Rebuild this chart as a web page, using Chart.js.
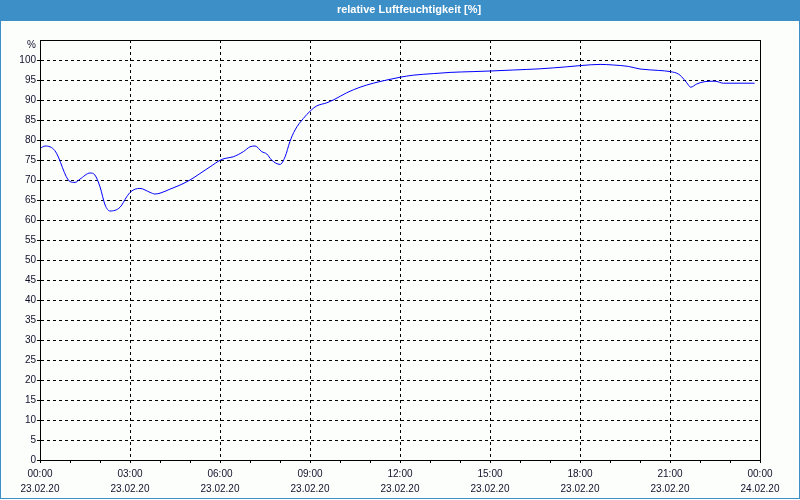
<!DOCTYPE html>
<html>
<head>
<meta charset="utf-8">
<script src="https://cdn.jsdelivr.net/npm/chart.js@4/dist/chart.umd.min.js"></script>
<style>
  html, body { margin: 0; padding: 0; background: #fcfefc; }
  canvas { display: block; }
</style>
</head>
<body>
<canvas id="c" width="800" height="500"></canvas>
<script>
// ---- data (hours since 23.02.20 00:00, relative humidity %) ----
const hours = [0, 0.17, 0.5, 1.0, 1.17, 1.33, 1.67, 1.83, 2.0, 2.17, 2.33, 2.67, 2.89, 3.03, 3.33, 3.67, 3.83, 4.0, 4.33, 4.67, 5.0, 5.33, 5.67, 6.02, 6.17, 6.44, 6.78, 7.0, 7.17, 7.39, 7.56, 7.72, 8.0, 8.17, 8.33, 8.5, 8.78, 9.01, 9.22, 9.56, 9.83, 10.22, 10.67, 11.11, 11.56, 12.01, 12.44, 13.11, 13.67, 14.44, 15.01, 15.78, 16.67, 17.56, 18.01, 18.67, 19.11, 19.61, 20.0, 20.61, 21.01, 21.28, 21.39, 21.56, 21.69, 21.89, 22.17, 22.5, 22.78, 23.82];
const humidity = [77.9, 78.5, 77.3, 69.6, 69.4, 70.2, 71.75, 71.25, 68.3, 63.75, 62.25, 63.2, 65.8, 67.1, 67.9, 66.9, 66.5, 66.7, 67.7, 68.75, 70, 71.6, 73.3, 75, 75.4, 75.8, 77.1, 78.3, 78.5, 77.1, 76.5, 75, 73.9, 75.8, 79.6, 82.5, 85.4, 87.25, 88.5, 89.3, 90.2, 91.8, 93.2, 94.2, 95, 95.7, 96.2, 96.6, 96.9, 97.1, 97.25, 97.5, 97.8, 98.3, 98.6, 98.9, 98.75, 98.4, 97.75, 97.4, 97.1, 96.5, 95.8, 94.3, 93.2, 94, 94.6, 94.7, 94.2, 94.2];
const xTickTimes = ['00:00', '03:00', '06:00', '09:00', '12:00', '15:00', '18:00', '21:00', '00:00'];
const xTickDates = ['23.02.20', '23.02.20', '23.02.20', '23.02.20', '23.02.20', '23.02.20', '23.02.20', '23.02.20', '24.02.20'];
const chartTitle = 'relative Luftfeuchtigkeit [%]';
const yUnit = '%';

const FONT = '"Liberation Sans", Arial, sans-serif';
const BAR = '#3d8fc7';
const TXT = '#10102a';

const frame = {
  id: 'frame',
  beforeDraw(chart) {
    const ctx = chart.ctx;
    ctx.save();
    ctx.fillStyle = '#fcfefc';
    ctx.fillRect(0, 0, 800, 500);
    ctx.fillStyle = BAR;
    ctx.fillRect(0, 0, 800, 21);
    ctx.strokeStyle = BAR;
    ctx.lineWidth = 1;
    ctx.strokeRect(0.5, 0.5, 799, 498);
    ctx.fillStyle = '#ffffff';
    ctx.font = 'bold 11px ' + FONT;
    ctx.textAlign = 'center';
    ctx.textBaseline = 'middle';
    ctx.fillText(chartTitle, 409, 10);
    ctx.restore();
  },
  afterDraw(chart) {
    const ctx = chart.ctx;
    const a = chart.chartArea;
    ctx.save();
    ctx.setLineDash([]);
    ctx.strokeStyle = '#000';
    ctx.lineWidth = 1;
    ctx.strokeRect(Math.round(a.left) + 0.5, Math.round(a.top) + 0.5, Math.round(a.right - a.left), Math.round(a.bottom - a.top));
    ctx.fillStyle = TXT;
    ctx.font = '10px ' + FONT;
    ctx.textAlign = 'right';
    ctx.textBaseline = 'middle';
    ctx.fillText(yUnit, a.left - 4, a.top + 5);
    ctx.restore();
  }
};

new Chart(document.getElementById('c'), {
  type: 'line',
  data: {
    datasets: [{
      data: hours.map((h, i) => ({ x: h, y: humidity[i] })),
      borderColor: '#0000ff',
      borderWidth: 1,
      pointRadius: 0,
      fill: false,
      cubicInterpolationMode: 'monotone'
    }]
  },
  options: {
    responsive: false,
    animation: false,
    devicePixelRatio: 1,
    layout: { padding: { top: 40, right: 40, left: 0, bottom: 0 } },
    plugins: { legend: { display: false }, title: { display: false }, tooltip: { enabled: false } },
    scales: {
      x: {
        type: 'linear',
        min: 0, max: 24,
        afterFit(s) { s.height = 40; },
        border: { display: true, color: '#000', width: 1, dash: [3, 3] },
        grid: {
          color: c => (c.tick && c.tick.value % 3 === 0 && c.tick.value > 0 && c.tick.value < 24) ? '#000' : 'rgba(0,0,0,0)',
          tickColor: '#000',
          tickLength: 3,
          tickBorderDash: [],
          lineWidth: 1
        },
        ticks: {
          stepSize: 1,
          autoSkip: false,
          maxRotation: 0,
          padding: 4,
          color: TXT,
          font: { family: FONT, size: 10, lineHeight: 1.5 },
          callback: v => (v % 3 === 0) ? [xTickTimes[v / 3], xTickDates[v / 3]] : ''
        }
      },
      y: {
        min: 0, max: 105,
        afterFit(s) { s.width = 40; },
        border: { display: true, color: '#000', width: 1, dash: [3, 3] },
        grid: {
          color: c => (c.tick && c.tick.value > 0 && c.tick.value < 105) ? '#000' : 'rgba(0,0,0,0)',
          tickColor: c => (c.tick && c.tick.value < 105) ? '#000' : 'rgba(0,0,0,0)',
          tickLength: 3,
          tickBorderDash: [],
          lineWidth: 1
        },
        ticks: {
          stepSize: 5,
          padding: 1,
          color: TXT,
          font: { family: FONT, size: 10 },
          callback: v => v <= 100 ? String(v) : ''
        }
      }
    }
  },
  plugins: [frame]
});
</script>
</body>
</html>
